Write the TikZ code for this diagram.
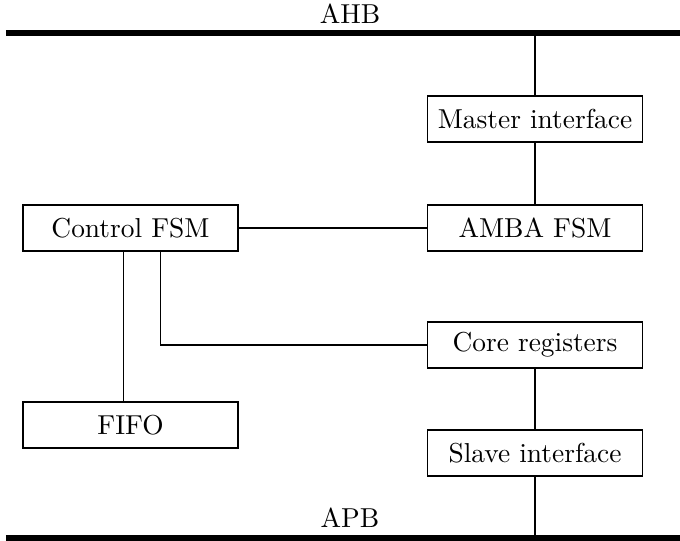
\documentclass[tikz,border=0pt]{standalone}
\usetikzlibrary{positioning}
\tikzset{
  blk/.style={draw, minimum width=78.5pt, minimum height=16.8pt, inner sep=2pt},
  bus/.style={line width=2.5pt},
}
\begin{document}
\begin{tikzpicture}[x=0.365pt, y=-0.365pt]
  \useasboundingbox (0,0) rectangle (680,541);
  % busses
  \coordinate (ahbL) at (6,33);
  \coordinate (ahbR) at (680,33);
  \coordinate (apbL) at (6,538);
  \coordinate (apbR) at (680,538);
  \draw[bus] (ahbL) -- (ahbR);
  \draw[bus] (apbL) -- (apbR);
  \node (ahb) at (350,14) {AHB};
  \node (apb) at (350,518) {APB};
  % blocks
  \node[blk] (master) at (535,119) {Master interface};
  \node[blk] (amba) at (535,228) {AMBA FSM};
  \node[blk] (ctrl) at (130.5,228) {Control FSM};
  \node[blk] (core) at (535,345) {Core registers};
  \node[blk] (fifo) at (130.5,425) {FIFO};
  \node[blk] (slave) at (535,453) {Slave interface};
  % taps on the busses
  \coordinate (ahbtap) at (535,33);
  \coordinate (apbtap) at (535,538);
  % connections
  \draw (ahbtap) -- (master);
  \draw (master) -- (amba);
  \draw (ctrl) -- (amba);
  \draw ([xshift=-2.7pt]ctrl.south) -- ([xshift=-2.7pt]fifo.north);
  \draw ([xshift=11.1pt]ctrl.south) |- (core.west);
  \draw (core) -- (slave);
  \draw (slave) -- (apbtap);
\end{tikzpicture}
\end{document}
